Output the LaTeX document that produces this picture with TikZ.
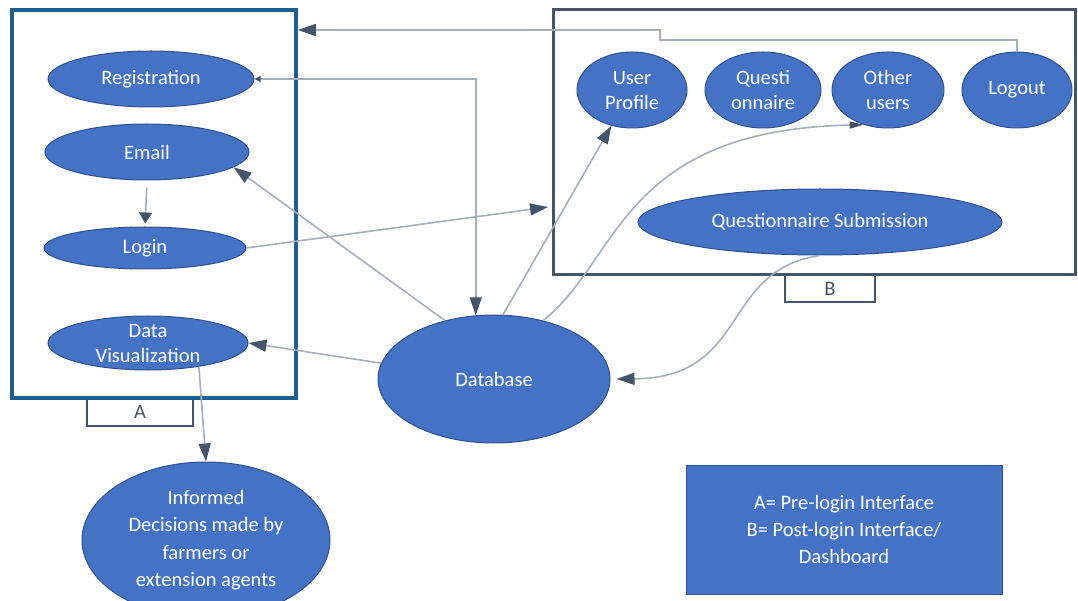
\documentclass[tikz,border=0pt]{standalone}
\usepackage{fontspec}
\setmainfont{Carlito}
\usetikzlibrary{arrows.meta,shapes.geometric}
\definecolor{uiblue}{HTML}{4472C4}
\definecolor{uiedge}{HTML}{2F528F}
\definecolor{uislate}{HTML}{44546A}
\definecolor{uiteal}{HTML}{1F5F8B}
\definecolor{uiwire}{HTML}{A7AEB8}
\tikzset{
  ov/.style={ellipse, draw=uiedge, line width=1pt, fill=uiblue, text=white, align=center, inner sep=0pt},
  frm/.style={draw=uislate, line width=3pt, inner sep=0pt},
  tab/.style={draw=uislate, line width=2.5pt, fill=white, inner sep=0pt, text=uislate},
  key/.style={draw=uiedge, line width=1pt, fill=uiblue, text=white, align=center, inner sep=0pt},
  wire/.style={draw=uiwire, line width=1.6pt},
  arr/.style={wire, -{Triangle[length=18pt, width=12pt, color=uislate]}},
  arr2/.style={wire, {Triangle[length=6pt, width=6pt, color=uislate]}-{Triangle[length=18pt, width=12pt, color=uislate]}},
}

\begin{document}
\begin{tikzpicture}[x=1pt, y=-1pt, font=\fontsize{20.5}{27}\selectfont]
    \useasboundingbox (0,0) rectangle (1078,601);
    % frames and their tabs
    \node[tab, minimum width=106pt, minimum height=28pt] (tabA) at (140,412) {A};
    \node[tab, minimum width=90pt, minimum height=27pt] (tabB) at (830,288.5) {B};
    \node[frm, draw=uiteal, line width=3.5pt, minimum width=284pt, minimum height=388pt] (boxA) at (154,204) {};
    \node[frm, minimum width=522pt, minimum height=265pt] (boxB) at (814,142.5) {};
    % pre-login side
    \node[ov, minimum width=206pt, minimum height=56pt] (reg) at (151,79) {Registration};
    \node[ov, minimum width=204pt, minimum height=56pt] (email) at (147,152) {Email};
    \node[ov, minimum width=202pt, minimum height=42pt] (login) at (145,248) {Login};
    \node[ov, minimum width=200pt, minimum height=54pt, inner ysep=-5pt, font=\fontsize{20.5}{25}\selectfont] (datavis) at (148,343) {Data\\Visualization};
    \node[ov, minimum width=248pt, minimum height=156pt, font=\fontsize{20.5}{27.5}\selectfont] (informed) at (206,540) {Informed\\Decisions made by\\farmers or\\extension agents};
    \node[ov, minimum width=232pt, minimum height=128pt] (db) at (494,379) {Database};
    % post-login side
    \node[ov, minimum width=110pt, minimum height=76pt, font=\fontsize{20.5}{25}\selectfont] (profile) at (632,90) {User\\Profile};
    \node[ov, minimum width=116pt, minimum height=76pt, font=\fontsize{20.5}{25}\selectfont] (quest) at (763,90) {Questi\\onnaire};
    \node[ov, minimum width=112pt, minimum height=76pt, font=\fontsize{20.5}{25}\selectfont] (others) at (888,90) {Other\\users};
    \node[ov, minimum width=110pt, minimum height=76pt] (logout) at (1017,90) {Logout};
    \node[ov, minimum width=364pt, minimum height=66pt] (qsub) at (820,222) {Questionnaire Submission};
    % legend
    \node[key, minimum width=316pt, minimum height=129pt] (legend) at (844,529.5) {A= Pre-login Interface\\B= Post-login Interface/\\Dashboard};
    % connectors
    \coordinate (bin) at (548,207);
    \coordinate (jog) at (660,40);
    \coordinate (jog2) at (660,30);
    \foreach \a/\b in {db.130/email.-10, db.82/profile.240, db.172/datavis.east, datavis.-25/informed.north, login.east/bin} \draw[arr] (\a) -- (\b);
    \draw[arr, -{Triangle[length=11pt, width=13pt, color=uislate]}, shorten <=7pt, shorten >=3pt] (email.south) -- (login.north);
    \draw[arr2] (reg.east) -| (db.106);
    \draw[arr, line width=1.2pt] (logout.north) |- (jog) -- (jog2) -- (boxA.east |- jog2);
    \draw[arr, -{Triangle[length=14pt, width=7pt, color=uislate]}] (db.50) .. controls (620,260) and (620,130) .. (others.235);
    \draw[arr, shorten >=6pt] (qsub.south) .. controls (720,270) and (750,378) .. (db.east);
  \end{tikzpicture}
\end{document}
